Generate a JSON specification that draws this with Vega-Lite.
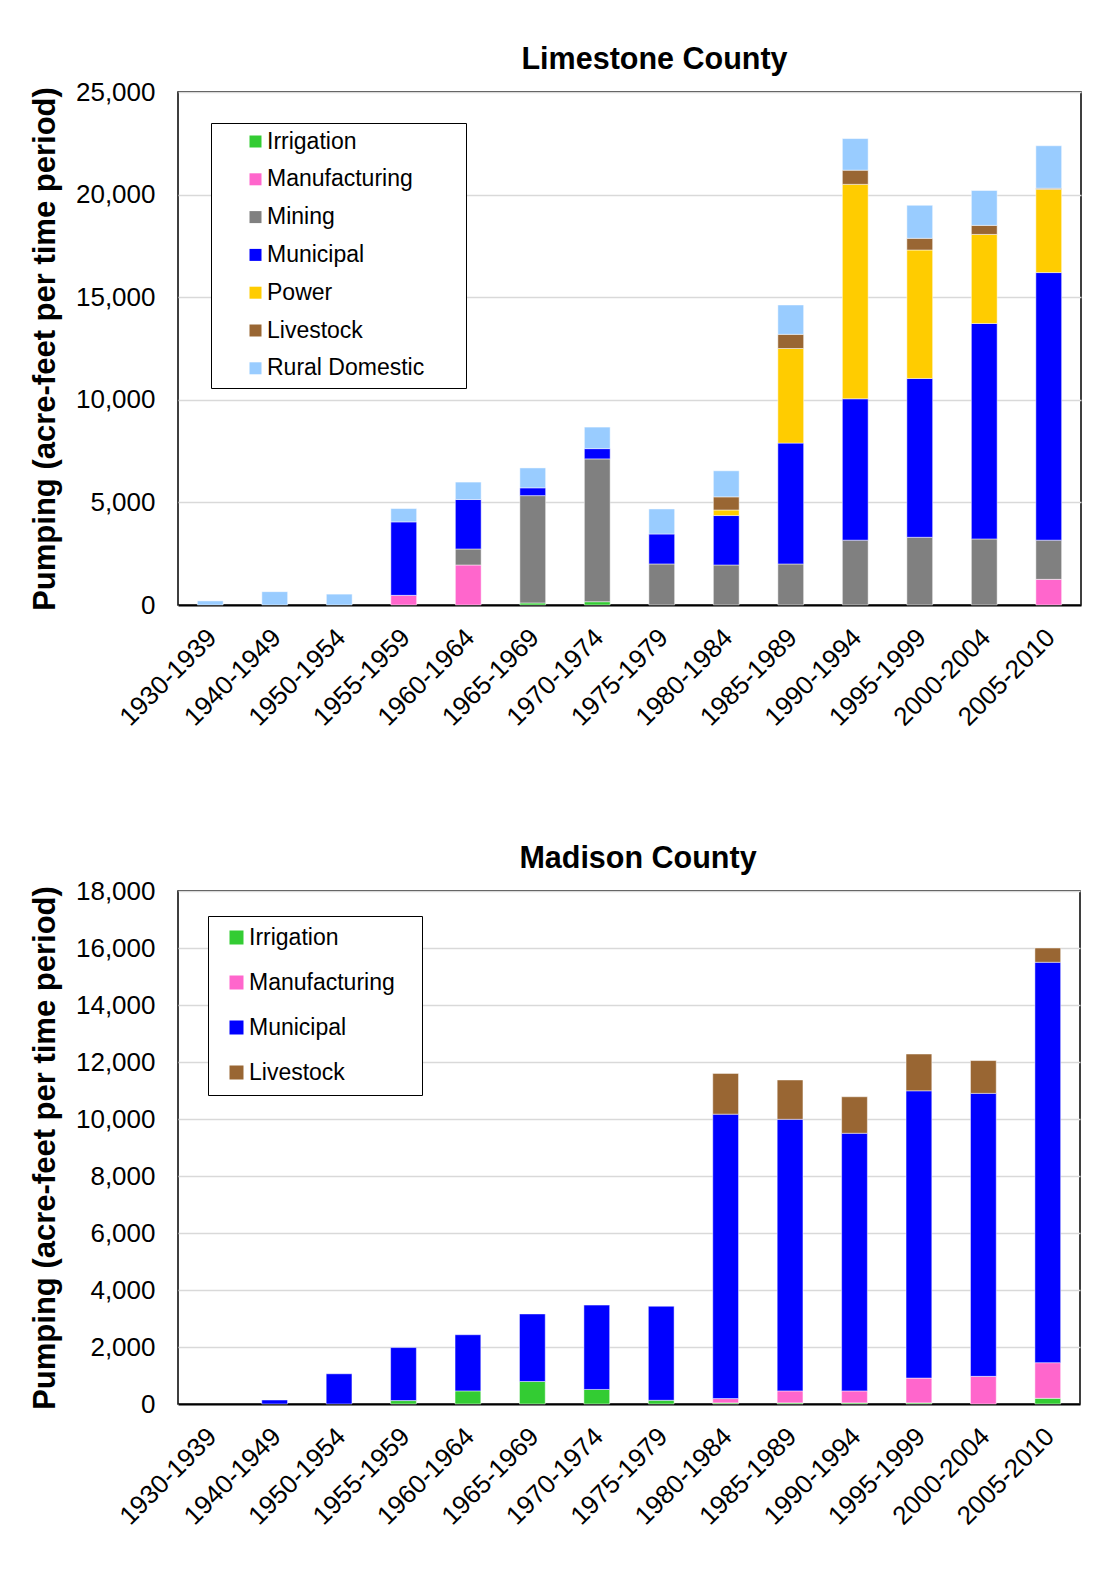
{
  "$schema": "https://vega.github.io/schema/vega-lite/v6.json",
  "background": "white",
  "padding": {"left": 28, "top": 43, "right": 10, "bottom": 10},
  "spacing": 110,
  "datasets": {
    "uses": [
      {"use": "Irrigation", "rank": 1},
      {"use": "Manufacturing", "rank": 2},
      {"use": "Mining", "rank": 3},
      {"use": "Municipal", "rank": 4},
      {"use": "Power", "rank": 5},
      {"use": "Livestock", "rank": 6},
      {"use": "Rural Domestic", "rank": 7}
    ],
    "limestone": [
      {"period": "1930-1939", "use": "Rural Domestic", "af": 200},
      {"period": "1940-1949", "use": "Rural Domestic", "af": 650},
      {"period": "1950-1954", "use": "Rural Domestic", "af": 530},
      {"period": "1955-1959", "use": "Manufacturing", "af": 470},
      {"period": "1955-1959", "use": "Municipal", "af": 3580},
      {"period": "1955-1959", "use": "Rural Domestic", "af": 650},
      {"period": "1960-1964", "use": "Manufacturing", "af": 1950},
      {"period": "1960-1964", "use": "Mining", "af": 780},
      {"period": "1960-1964", "use": "Municipal", "af": 2410},
      {"period": "1960-1964", "use": "Rural Domestic", "af": 850},
      {"period": "1965-1969", "use": "Irrigation", "af": 100},
      {"period": "1965-1969", "use": "Mining", "af": 5230},
      {"period": "1965-1969", "use": "Municipal", "af": 380},
      {"period": "1965-1969", "use": "Rural Domestic", "af": 970},
      {"period": "1970-1974", "use": "Irrigation", "af": 160},
      {"period": "1970-1974", "use": "Mining", "af": 6960},
      {"period": "1970-1974", "use": "Municipal", "af": 500},
      {"period": "1970-1974", "use": "Rural Domestic", "af": 1050},
      {"period": "1975-1979", "use": "Mining", "af": 2000},
      {"period": "1975-1979", "use": "Municipal", "af": 1460},
      {"period": "1975-1979", "use": "Rural Domestic", "af": 1220},
      {"period": "1980-1984", "use": "Mining", "af": 1950},
      {"period": "1980-1984", "use": "Municipal", "af": 2410},
      {"period": "1980-1984", "use": "Power", "af": 270},
      {"period": "1980-1984", "use": "Livestock", "af": 640},
      {"period": "1980-1984", "use": "Rural Domestic", "af": 1270},
      {"period": "1985-1989", "use": "Mining", "af": 2000},
      {"period": "1985-1989", "use": "Municipal", "af": 5890},
      {"period": "1985-1989", "use": "Power", "af": 4610},
      {"period": "1985-1989", "use": "Livestock", "af": 690},
      {"period": "1985-1989", "use": "Rural Domestic", "af": 1430},
      {"period": "1990-1994", "use": "Mining", "af": 3160},
      {"period": "1990-1994", "use": "Municipal", "af": 6890},
      {"period": "1990-1994", "use": "Power", "af": 10450},
      {"period": "1990-1994", "use": "Livestock", "af": 690},
      {"period": "1990-1994", "use": "Rural Domestic", "af": 1540},
      {"period": "1995-1999", "use": "Mining", "af": 3300},
      {"period": "1995-1999", "use": "Municipal", "af": 7740},
      {"period": "1995-1999", "use": "Power", "af": 6260},
      {"period": "1995-1999", "use": "Livestock", "af": 570},
      {"period": "1995-1999", "use": "Rural Domestic", "af": 1610},
      {"period": "2000-2004", "use": "Mining", "af": 3220},
      {"period": "2000-2004", "use": "Municipal", "af": 10500},
      {"period": "2000-2004", "use": "Power", "af": 4340},
      {"period": "2000-2004", "use": "Livestock", "af": 440},
      {"period": "2000-2004", "use": "Rural Domestic", "af": 1700},
      {"period": "2005-2010", "use": "Manufacturing", "af": 1250},
      {"period": "2005-2010", "use": "Mining", "af": 1910},
      {"period": "2005-2010", "use": "Municipal", "af": 13040},
      {"period": "2005-2010", "use": "Power", "af": 4060},
      {"period": "2005-2010", "use": "Livestock", "af": 50},
      {"period": "2005-2010", "use": "Rural Domestic", "af": 2070}
    ],
    "madison": [
      {"period": "1940-1949", "use": "Municipal", "af": 140},
      {"period": "1950-1954", "use": "Municipal", "af": 1060},
      {"period": "1955-1959", "use": "Irrigation", "af": 120},
      {"period": "1955-1959", "use": "Municipal", "af": 1860},
      {"period": "1960-1964", "use": "Irrigation", "af": 460},
      {"period": "1960-1964", "use": "Municipal", "af": 1970},
      {"period": "1965-1969", "use": "Irrigation", "af": 790},
      {"period": "1965-1969", "use": "Municipal", "af": 2370},
      {"period": "1970-1974", "use": "Irrigation", "af": 510},
      {"period": "1970-1974", "use": "Municipal", "af": 2960},
      {"period": "1975-1979", "use": "Irrigation", "af": 130},
      {"period": "1975-1979", "use": "Municipal", "af": 3300},
      {"period": "1980-1984", "use": "Irrigation", "af": 40},
      {"period": "1980-1984", "use": "Manufacturing", "af": 150},
      {"period": "1980-1984", "use": "Municipal", "af": 9980},
      {"period": "1980-1984", "use": "Livestock", "af": 1430},
      {"period": "1985-1989", "use": "Irrigation", "af": 40},
      {"period": "1985-1989", "use": "Manufacturing", "af": 420},
      {"period": "1985-1989", "use": "Municipal", "af": 9530},
      {"period": "1985-1989", "use": "Livestock", "af": 1380},
      {"period": "1990-1994", "use": "Irrigation", "af": 40},
      {"period": "1990-1994", "use": "Manufacturing", "af": 420},
      {"period": "1990-1994", "use": "Municipal", "af": 9040},
      {"period": "1990-1994", "use": "Livestock", "af": 1280},
      {"period": "1995-1999", "use": "Irrigation", "af": 40},
      {"period": "1995-1999", "use": "Manufacturing", "af": 870},
      {"period": "1995-1999", "use": "Municipal", "af": 10080},
      {"period": "1995-1999", "use": "Livestock", "af": 1290},
      {"period": "2000-2004", "use": "Manufacturing", "af": 970},
      {"period": "2000-2004", "use": "Municipal", "af": 9930},
      {"period": "2000-2004", "use": "Livestock", "af": 1150},
      {"period": "2005-2010", "use": "Irrigation", "af": 200},
      {"period": "2005-2010", "use": "Manufacturing", "af": 1250},
      {"period": "2005-2010", "use": "Municipal", "af": 14050},
      {"period": "2005-2010", "use": "Livestock", "af": 500}
    ]
  },
  "config": {
    "font": "Liberation Sans",
    "view": {"stroke": "#000000", "strokeWidth": 1.5},
    "axis": {
      "labelFont": "Liberation Sans",
      "labelFontSize": 26,
      "labelColor": "#000000",
      "ticks": false,
      "titleFont": "Liberation Sans",
      "titleFontSize": 31,
      "titleFontWeight": "bold",
      "titleColor": "#000000"
    },
    "axisY": {"domain": false, "gridColor": "#d9d9d9", "gridWidth": 1.5, "labelPadding": 23, "titlePadding": 14},
    "axisX": {"grid": false, "domain": true, "domainColor": "#000000", "domainWidth": 2, "zindex": 1, "labelAngle": -45, "labelAlign": "right", "labelBaseline": "top", "labelPadding": 19, "labelOffset": -7},
    "title": {"font": "Liberation Sans", "fontSize": 30.5, "fontWeight": "bold", "color": "#000000", "offset": 4},
    "legend": {
      "orient": "none",
      "title": null,
      "fillColor": "#ffffff",
      "strokeColor": "#000000",
      "symbolType": "square",
      "symbolStrokeWidth": 0,
      "labelFont": "Liberation Sans",
      "labelFontSize": 23,
      "labelColor": "#000000",
      "labelLimit": 400
    }
  },
  "resolve": {"scale": {"color": "independent"}},
  "vconcat": [
    {
      "width": 903,
      "height": 513,
      "title": {"text": "Limestone County", "dx": 25},
      "data": {"name": "limestone"},
      "transform": [
        {"lookup": "use", "from": {"data": {"name": "uses"}, "key": "use", "fields": ["rank"]}}
      ],
      "mark": {"type": "bar", "stroke": "#ffffff", "strokeWidth": 0.8, "strokeOpacity": 0.6},
      "encoding": {
        "x": {
          "field": "period", "type": "nominal", "title": null,
          "scale": {"domain": ["1930-1939","1940-1949","1950-1954","1955-1959","1960-1964","1965-1969","1970-1974","1975-1979","1980-1984","1985-1989","1990-1994","1995-1999","2000-2004","2005-2010"], "paddingInner": 0.6, "paddingOuter": 0.3}
        },
        "y": {
          "field": "af", "type": "quantitative", "stack": "zero",
          "title": "Pumping (acre-feet per time period)",
          "scale": {"domain": [0, 25000], "nice": false},
          "axis": {"values": [0, 5000, 10000, 15000, 20000, 25000], "format": ",.0f"}
        },
        "order": {"field": "rank", "type": "quantitative", "sort": "ascending"},
        "color": {
          "field": "use", "type": "nominal",
          "scale": {
            "domain": ["Irrigation","Manufacturing","Mining","Municipal","Power","Livestock","Rural Domestic"],
            "range": ["#33cc33","#ff66cc","#808080","#0000ff","#ffcc00","#996633","#99ccff"]
          },
          "legend": {"legendX": 33, "legendY": 31, "padding": 7, "symbolSize": 144, "symbolOffset": 26, "labelOffset": 0, "rowPadding": 13.8, "labelExpr": "datum.label + '\u2800\u2800'"}
        }
      }
    },
    {
      "width": 902,
      "height": 513,
      "title": {"text": "Madison County", "dx": 9},
      "data": {"name": "madison"},
      "transform": [
        {"lookup": "use", "from": {"data": {"name": "uses"}, "key": "use", "fields": ["rank"]}}
      ],
      "mark": {"type": "bar", "stroke": "#ffffff", "strokeWidth": 0.8, "strokeOpacity": 0.6},
      "encoding": {
        "x": {
          "field": "period", "type": "nominal", "title": null,
          "scale": {"domain": ["1930-1939","1940-1949","1950-1954","1955-1959","1960-1964","1965-1969","1970-1974","1975-1979","1980-1984","1985-1989","1990-1994","1995-1999","2000-2004","2005-2010"], "paddingInner": 0.6, "paddingOuter": 0.3}
        },
        "y": {
          "field": "af", "type": "quantitative", "stack": "zero",
          "title": "Pumping (acre-feet per time period)",
          "scale": {"domain": [0, 18000], "nice": false},
          "axis": {"values": [0, 2000, 4000, 6000, 8000, 10000, 12000, 14000, 16000, 18000], "format": ",.0f"}
        },
        "order": {"field": "rank", "type": "quantitative", "sort": "ascending"},
        "color": {
          "field": "use", "type": "nominal",
          "scale": {
            "domain": ["Irrigation","Manufacturing","Municipal","Livestock"],
            "range": ["#33cc33","#ff66cc","#0000ff","#996633"]
          },
          "legend": {"legendX": 30, "legendY": 25, "padding": 10, "symbolSize": 196, "symbolOffset": 7, "labelOffset": 1, "rowPadding": 21, "labelExpr": "datum.label + '\u2800'"}
        }
      }
    }
  ]
}
